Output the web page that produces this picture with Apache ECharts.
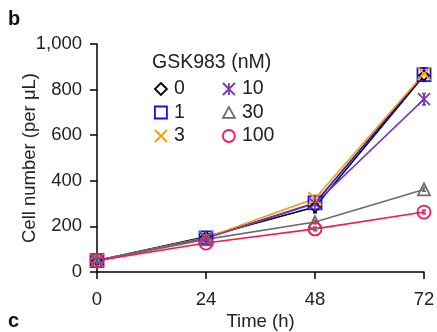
<!DOCTYPE html>
<html>
<head>
<meta charset="utf-8">
<script src="https://cdn.jsdelivr.net/npm/echarts@6/dist/echarts.min.js"></script>
<style>
html, body { margin: 0; padding: 0; background: #fff; }
#chart { width: 437px; height: 332px; }
</style>
</head>
<body>
<div id="chart"></div>
<script>
var hours = [0, 24, 48, 72];
var doseNames = ["0", "1", "3", "10", "30", "100"];
var dose0 = [50, 155, 285, 862];
var dose1 = [50, 150, 303, 866];
var dose3 = [50, 150, 322, 870];
var dose10 = [50, 148, 300, 758];
var dose30 = [50, 143, 219, 362];
var dose100 = [50, 127, 189, 263];
// error bar half-widths
var err0 = [5, 10, 25, 20];
var err1 = [5, 8, 10, 30];
var err3 = [5, 8, 15, 15];
var err10 = [5, 8, 10, 25];
var err30 = [5, 5, 8, 8];
var err100 = [5, 5, 8, 8];
var yTicks = [0, 200, 400, 600, 800, 1000];

var FONT = "Liberation Sans";
var colors = ["#000000", "#1010f5", "#ff9a00", "#7a3cb0", "#6b6b6b", "#e8205a"];
var symbols = [
    "path://M5,0L10,5L5,10L0,5Z",
    "path://M0,0L10,0L10,10L0,10Z",
    "path://M0,0L10,10M10,0L0,10",
    "path://M0,0L10,10M10,0L0,10M5,0L5,10",
    "path://M5,0L10,9L0,9Z",
    "circle"
];
var sizes = [10, 13, 13, 12, 12, 13];
var values = [dose0, dose1, dose3, dose10, dose30, dose100];
var errs = [err0, err1, err3, err10, err30, err100];

var chart = echarts.init(document.getElementById("chart"));

var series = [];
values.forEach(function (vals, k) {
    // error bars
    series.push({
        name: doseNames[k],
        type: "custom",
        silent: true,
        z: 1,
        renderItem: function (params, api) {
            var x = api.value(0), lo = api.value(1), hi = api.value(2);
            var p1 = api.coord([x, lo]), p2 = api.coord([x, hi]);
            var st = { stroke: colors[k], lineWidth: 1.5 };
            return {
                type: "group",
                children: [
                    { type: "line", shape: { x1: p1[0], y1: p1[1], x2: p2[0], y2: p2[1] }, style: st },
                    { type: "line", shape: { x1: p1[0] - 2, y1: p1[1], x2: p1[0] + 2, y2: p1[1] }, style: st },
                    { type: "line", shape: { x1: p2[0] - 2, y1: p2[1], x2: p2[0] + 2, y2: p2[1] }, style: st }
                ]
            };
        },
        data: hours.map(function (h, i) { return [h, vals[i] - errs[k][i], vals[i] + errs[k][i]]; })
    });
    series.push({
        name: doseNames[k],
        type: "line",
        z: 2,
        symbol: symbols[k],
        symbolSize: sizes[k],
        showAllSymbol: true,
        lineStyle: { color: colors[k], width: 1.6 },
        itemStyle: { color: k === 0 ? "#fff" : "rgba(255,255,255,0)", borderColor: colors[k], borderWidth: 1.8 },
        data: hours.map(function (h, i) { return [h, vals[i]]; })
    });
});

function legendItems(idx) {
    return idx.map(function (k) {
        return {
            name: doseNames[k],
            icon: symbols[k],
            itemStyle: { color: "rgba(255,255,255,0)", borderColor: colors[k], borderWidth: 1.8 }
        };
    });
}

var legendBase = {
    orient: "vertical",
    itemWidth: 12,
    itemHeight: 12,
    itemGap: 3.5,
    padding: 0,
    textStyle: { fontFamily: FONT, fontSize: 19.5, lineHeight: 20, color: "#222", padding: [0, 0, 0, 2] },
    selectedMode: false
};

chart.setOption({
    animation: false,
    textStyle: { fontFamily: FONT },
    grid: { left: 97, right: 13, top: 44, bottom: 60, outerBoundsMode: "none" },
    graphic: [
        { type: "text", left: 8, top: 9, style: { text: "b", font: "bold 20px " + FONT, fill: "#111" } },
        { type: "text", left: 8, top: 311, style: { text: "c", font: "bold 20px " + FONT, fill: "#111" } },
        { type: "text", left: 152, top: 53, style: { text: "GSK983 (nM)", font: "19.5px " + FONT, fill: "#222" } }
    ],
    legend: [
        Object.assign({ left: 154, top: 79, data: legendItems([0, 1, 2]) }, legendBase),
        Object.assign({ left: 222, top: 79, data: legendItems([3, 4, 5]) }, legendBase)
    ],
    xAxis: {
        type: "value",
        min: 0,
        max: 72,
        interval: 24,
        name: "Time (h)",
        nameLocation: "middle",
        nameGap: 40,
        nameMoveOverlap: false,
        nameTextStyle: { fontFamily: FONT, fontSize: 18.5, color: "#222" },
        axisLine: { lineStyle: { color: "#000", width: 1.5 } },
        axisTick: { show: true, length: 7, lineStyle: { color: "#000", width: 1.5 } },
        axisLabel: { fontFamily: FONT, fontSize: 18.5, color: "#222", margin: 18 },
        splitLine: { show: false }
    },
    yAxis: {
        type: "value",
        min: 0,
        max: 1000,
        interval: 200,
        name: "Cell number (per μL)",
        nameLocation: "middle",
        nameGap: 58,
        nameMoveOverlap: false,
        nameTextStyle: { fontFamily: FONT, fontSize: 18.5, color: "#222" },
        axisLine: { show: true, lineStyle: { color: "#000", width: 1.5 } },
        axisTick: { show: true, length: 7, lineStyle: { color: "#000", width: 1.5 } },
        axisLabel: {
            fontFamily: FONT, fontSize: 18.5, color: "#222", margin: 15,
            formatter: function (v) { return yTicks.indexOf(v) >= 0 ? v.toLocaleString("en-US") : ""; }
        },
        splitLine: { show: false }
    },
    series: series
});
</script>
</body>
</html>
